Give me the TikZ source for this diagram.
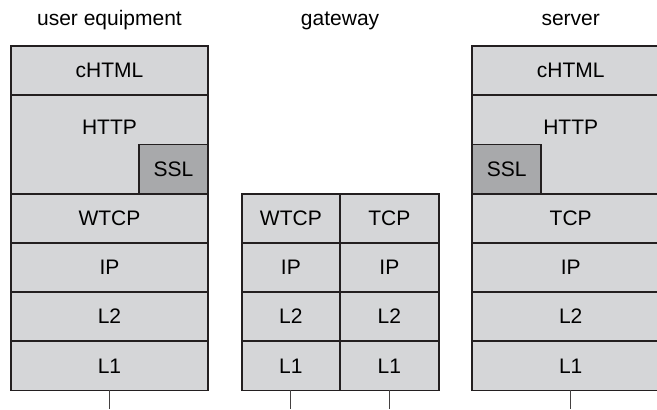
\documentclass[tikz,border=0pt]{standalone}
\usepackage{fontspec}
\setmainfont{Liberation Sans}
\usepackage{tikz}
\usetikzlibrary{positioning}
\definecolor{layergray}{HTML}{D5D6D8}
\definecolor{sslgray}{HTML}{A8A9AB}
\definecolor{edge}{HTML}{231F20}
\tikzset{
  layer/.style={
    draw=edge,fill=layergray,line width=.9pt,
    minimum width=98.5pt,minimum height=24.6pt,
    inner sep=0pt,outer sep=0pt
  },
  halflayer/.style={layer,minimum width=49.25pt},
  toplayer/.style={layer,minimum height=49.2pt},
  sslbox/.style={layer,fill=sslgray,minimum width=34.5pt},
  title/.style={anchor=base,inner sep=0pt},
  wire/.style={draw=edge!85,line width=.45pt}
}
\begin{document}
\begin{tikzpicture}[font=\fontsize{10.5}{12}\selectfont,node distance=16.8pt]
\useasboundingbox (0,0) rectangle (328.5pt,-204.5pt);

\node[layer,anchor=north west] (ue-chtml) at (5.5pt,-23pt) {cHTML};
\node[toplayer,below=0pt of ue-chtml,
  label={[anchor=center,yshift=-16pt]north:HTTP}] (ue-http) {};
\node[sslbox,anchor=south east] (ue-ssl) at (ue-http.south east) {SSL};
\node[layer,below=0pt of ue-http] (ue-wtcp) {WTCP};
\node[layer,below=0pt of ue-wtcp] (ue-ip) {IP};
\node[layer,below=0pt of ue-ip] (ue-l2) {L2};
\node[layer,below=0pt of ue-l2] (ue-l1) {L1};

\node[halflayer,right=of ue-wtcp] (gw-wtcp) {WTCP};
\node[halflayer,right=0pt of gw-wtcp] (gw-tcp) {TCP};
\node[halflayer,below=0pt of gw-wtcp] (gw-ip1) {IP};
\node[halflayer,below=0pt of gw-tcp] (gw-ip2) {IP};
\node[halflayer,below=0pt of gw-ip1] (gw-l21) {L2};
\node[halflayer,below=0pt of gw-ip2] (gw-l22) {L2};
\node[halflayer,below=0pt of gw-l21] (gw-l11) {L1};
\node[halflayer,below=0pt of gw-l22] (gw-l12) {L1};

\node[layer,right=of gw-tcp] (srv-tcp) {TCP};
\node[toplayer,above=0pt of srv-tcp,
  label={[anchor=center,yshift=-16pt]north:HTTP}] (srv-http) {};
\node[sslbox,anchor=south west] (srv-ssl) at (srv-http.south west) {SSL};
\node[layer,above=0pt of srv-http] (srv-chtml) {cHTML};
\node[layer,below=0pt of srv-tcp] (srv-ip) {IP};
\node[layer,below=0pt of srv-ip] (srv-l2) {L2};
\node[layer,below=0pt of srv-l2] (srv-l1) {L1};

\node[title] (ue-title) at ([yshift=10.5pt]ue-chtml.north) {user equipment};
\node[title] (gw-title) at (gw-wtcp.north east |- ue-title.base) {gateway};
\node[title] (srv-title) at (srv-chtml.north |- ue-title.base) {server};

\coordinate[below=9.5pt of ue-l1] (ue-end);
\coordinate[below=9.5pt of gw-l11] (gw-end1);
\coordinate[below=9.5pt of gw-l12] (gw-end2);
\coordinate[below=9.5pt of srv-l1] (srv-end);
\draw[wire] (ue-l1.south) -- (ue-end);
\draw[wire] (gw-l11.south) -- (gw-end1);
\draw[wire] (gw-l12.south) -- (gw-end2);
\draw[wire] (srv-l1.south) -- (srv-end);
\end{tikzpicture}
\end{document}
